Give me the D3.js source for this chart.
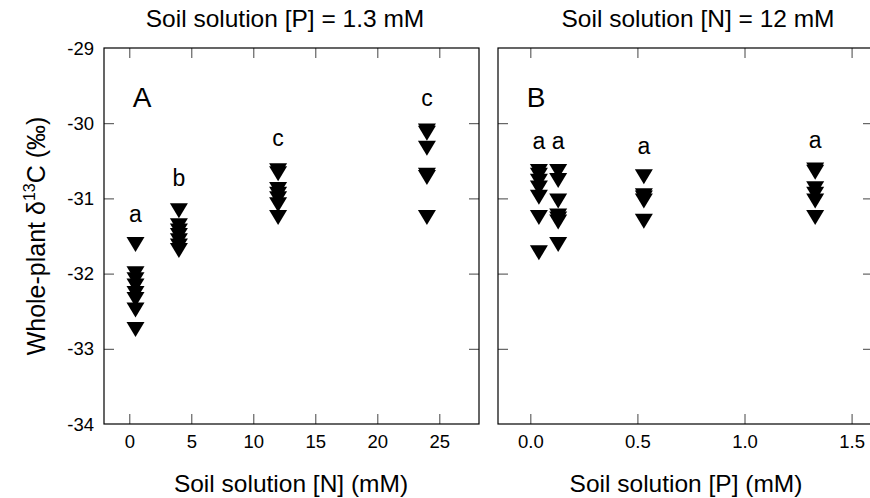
<!DOCTYPE html>
<html><head><meta charset="utf-8">
<script src="https://cdn.jsdelivr.net/npm/d3@7"></script>
<style>body{margin:0;background:#fff}svg{display:block}text{font-family:"Liberation Sans",Arial,sans-serif;fill:#000}</style>
</head><body><svg id="c" width="870" height="498"></svg>
<script>
// Panel A: N varied (P = 1.3 mM)
const nLevels = [0.5, 4, 12, 24];
const nValues = [
  [-31.58, -31.97, -32.05, -32.13, -32.23, -32.31, -32.45, -32.71],
  [-31.13, -31.33, -31.40, -31.46, -31.53, -31.60, -31.66],
  [-30.60, -30.64, -30.85, -30.91, -30.97, -31.05, -31.22],
  [-30.07, -30.10, -30.30, -30.66, -30.69, -31.22]
];
const nLetters = ["a", "b", "c", "c"];
// Panel B: P varied (N = 12 mM)
const pLevels = [0.04, 0.13, 0.53, 1.33];
const pValues = [
  [-30.61, -30.66, -30.74, -30.83, -30.95, -31.22, -31.69],
  [-30.61, -30.73, -31.00, -31.20, -31.24, -31.28, -31.58],
  [-30.68, -30.93, -30.96, -31.00, -31.27],
  [-30.59, -30.62, -30.84, -30.91, -31.00, -31.22]
];
const pLetters = ["a", "a", "a", "a"];
const yTicks = [-34, -33, -32, -31, -30, -29];
const nTicks = [0, 5, 10, 15, 20, 25];
const pTicks = [0.0, 0.5, 1.0, 1.5];

const svg = d3.select("#c");
const plotTop = 48, plotBottom = 424;
const y = d3.scaleLinear().domain([-34, -29]).range([plotBottom, plotTop]);

const panels = [
  {x0: 104, x1: 479, domain: [-2.04, 28.2], levels: nLevels, values: nValues, letters: nLetters,
   ticks: nTicks, fmt: d => String(d), tag: "A", title: "Soil solution [P] = 1.3 mM", xlab: "Soil solution [N] (mM)",
   titleX: 285, xlabX: 291, letterDy: [-20, -22, -22, -22], yLabels: true},
  {x0: 498, x1: 873, domain: [-0.151, 1.6], levels: pLevels, values: pValues, letters: pLetters,
   ticks: pTicks, fmt: d3.format(".1f"), tag: "B", title: "Soil solution [N] = 12 mM", xlab: "Soil solution [P] (mM)",
   titleX: 698, xlabX: 686, letterDy: [-20, -20, -20, -20], yLabels: false}
];

const tri = "M-9,-5L9,-5L0,10Z";

panels.forEach(p => {
  const x = d3.scaleLinear().domain(p.domain).range([p.x0, p.x1]);
  const g = svg.append("g");
  const ax = g.append("g").attr("transform", `translate(0,${plotBottom})`)
    .call(d3.axisBottom(x).tickValues(p.ticks).tickFormat(p.fmt).tickSize(-10).tickSizeOuter(0).tickPadding(11));
  const at = g.append("g").attr("transform", `translate(0,${plotTop})`)
    .call(d3.axisTop(x).tickValues(p.ticks).tickFormat("").tickSize(-10).tickSizeOuter(0));
  const al = g.append("g").attr("transform", `translate(${p.x0},0)`)
    .call(d3.axisLeft(y).tickValues(yTicks.slice(1, -1)).tickFormat("").tickSize(-10).tickSizeOuter(0));
  const ar = g.append("g").attr("transform", `translate(${p.x1},0)`)
    .call(d3.axisRight(y).tickValues(yTicks.slice(1, -1)).tickFormat("").tickSize(-10).tickSizeOuter(0));
  [ax, at, al, ar].forEach(a => {
    a.select(".domain").remove();
    a.selectAll(".tick line").attr("stroke", "#444").attr("stroke-width", 1);
    a.selectAll("text").attr("font-size", 18.5).attr("font-family", "Liberation Sans, Arial, sans-serif").attr("fill", "#000");
  });
  if (p.yLabels) {
    g.selectAll(".ylab").data(yTicks).join("text")
      .attr("x", p.x0 - 10).attr("y", d => y(d)).attr("dy", "0.36em")
      .attr("text-anchor", "end").attr("font-size", 18.5).text(d => String(d));
  }
  g.append("rect").attr("x", p.x0).attr("y", plotTop).attr("width", p.x1 - p.x0).attr("height", plotBottom - plotTop)
    .attr("fill", "none").attr("stroke", "#000").attr("stroke-width", 1.2);
  p.levels.forEach((lv, i) => {
    g.selectAll(null).data(p.values[i]).join("path")
      .attr("d", tri).attr("fill", "#000")
      .attr("transform", d => `translate(${x(lv)},${y(d)})`);
    const maxV = d3.max(p.values[i]);
    g.append("text").attr("x", x(lv)).attr("y", y(maxV) + p.letterDy[i])
      .attr("text-anchor", "middle").attr("font-size", 23).text(p.letters[i]);
  });
  g.append("text").attr("x", p.x0 + 38).attr("y", 107).attr("text-anchor", "middle").attr("font-size", 28).text(p.tag);
  svg.append("text").attr("x", p.titleX).attr("y", 27).attr("text-anchor", "middle").attr("font-size", 24.5).text(p.title);
  svg.append("text").attr("x", p.xlabX).attr("y", 492).attr("text-anchor", "middle").attr("font-size", 24.5).text(p.xlab);
});

const yl = svg.append("text").attr("transform", `translate(45,${(plotTop + plotBottom) / 2}) rotate(-90)`)
  .attr("text-anchor", "middle").attr("font-size", 25);
yl.append("tspan").text("Whole-plant \u03B4");
yl.append("tspan").attr("font-size", 16).attr("dy", -10).text("13");
yl.append("tspan").attr("dy", 10).text("C (\u2030)");
</script></body></html>
